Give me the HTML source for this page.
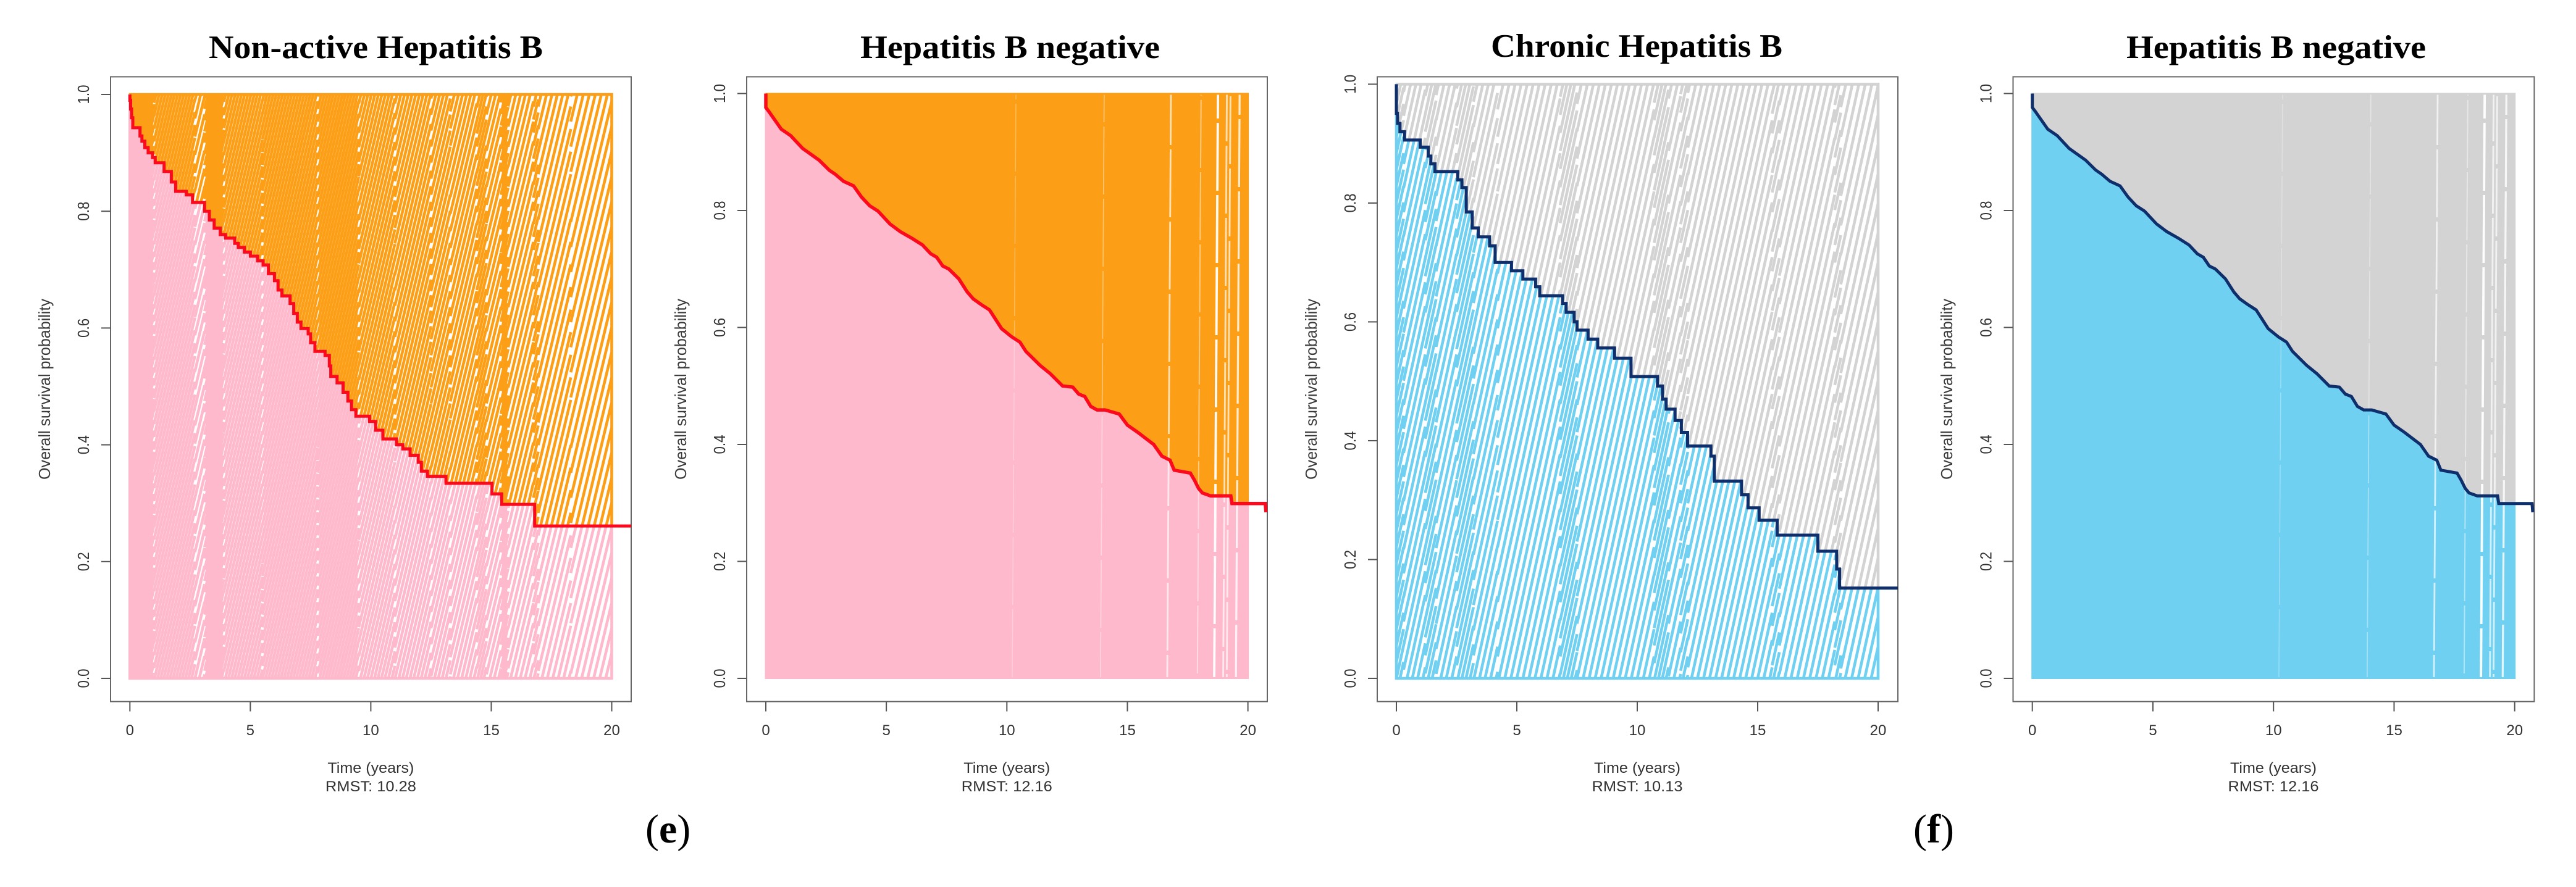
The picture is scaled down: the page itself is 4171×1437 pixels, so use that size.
<!DOCTYPE html>
<html lang="en">
<head>
<meta charset="utf-8">
<title>Overall survival RMST plots</title>
<style>
html,body{margin:0;padding:0;background:#fff;}
svg{display:block;}
text{font-family:"Liberation Sans",Arial,sans-serif;fill:#333;}
.title{font-family:"Liberation Serif",serif;font-weight:bold;font-size:53px;fill:#000;}
.axt{font-size:24px;text-anchor:middle;}
.ylab{font-size:26px;fill:#3a3a3a;}
.cap{font-family:"Liberation Serif",serif;font-size:66px;fill:#000;}
</style>
</head>
<body>
<svg id="fig" xmlns="http://www.w3.org/2000/svg" width="4171" height="1437" viewBox="0 0 4171 1437">
  <rect x="0" y="0" width="4171" height="1437" fill="#fff"/>
  <defs id="clips"></defs>
  <g id="panel1"></g>
  <g id="panel2"></g>
  <g id="panel3"></g>
  <g id="panel4"></g>

  <text class="title" x="338" y="94" textLength="541" lengthAdjust="spacingAndGlyphs">Non-active Hepatitis B</text>
  <text class="title" x="1393" y="94" textLength="485" lengthAdjust="spacingAndGlyphs">Hepatitis B negative</text>
  <text class="title" x="2414" y="92" textLength="472" lengthAdjust="spacingAndGlyphs">Chronic Hepatitis B</text>
  <text class="title" x="3443" y="94" textLength="485" lengthAdjust="spacingAndGlyphs">Hepatitis B negative</text>

  <text class="ylab" transform="translate(81,777) rotate(-90)" textLength="293" lengthAdjust="spacingAndGlyphs">Overall survival probability</text>
  <text class="ylab" transform="translate(1111,777) rotate(-90)" textLength="293" lengthAdjust="spacingAndGlyphs">Overall survival probability</text>
  <text class="ylab" transform="translate(2132,777) rotate(-90)" textLength="293" lengthAdjust="spacingAndGlyphs">Overall survival probability</text>
  <text class="ylab" transform="translate(3161,777) rotate(-90)" textLength="293" lengthAdjust="spacingAndGlyphs">Overall survival probability</text>

  <text class="axt" x="600.4" y="1252" textLength="140" lengthAdjust="spacingAndGlyphs">Time (years)</text>
  <text class="axt" x="600.4" y="1282" textLength="147" lengthAdjust="spacingAndGlyphs">RMST: 10.28</text>
  <text class="axt" x="1630.3" y="1252" textLength="140" lengthAdjust="spacingAndGlyphs">Time (years)</text>
  <text class="axt" x="1630.3" y="1282" textLength="147" lengthAdjust="spacingAndGlyphs">RMST: 12.16</text>
  <text class="axt" x="2651" y="1252" textLength="140" lengthAdjust="spacingAndGlyphs">Time (years)</text>
  <text class="axt" x="2651" y="1282" textLength="147" lengthAdjust="spacingAndGlyphs">RMST: 10.13</text>
  <text class="axt" x="3681" y="1252" textLength="140" lengthAdjust="spacingAndGlyphs">Time (years)</text>
  <text class="axt" x="3681" y="1282" textLength="147" lengthAdjust="spacingAndGlyphs">RMST: 12.16</text>

  <text class="cap" x="1045" y="1365">(<tspan font-weight="bold">e</tspan>)</text>
  <text class="cap" x="3098" y="1365">(<tspan font-weight="bold">f</tspan>)</text>
</svg>
<script>
// Axis ticks
const xTickValues = [0, 5, 10, 15, 20];
const xTickLabels = ["0", "5", "10", "15", "20"];
const yTickValues = [0, 0.2, 0.4, 0.6, 0.8, 1];
const yTickLabels = ["0.0", "0.2", "0.4", "0.6", "0.8", "1.0"];

// Non-active Hepatitis B: drop times (years) and survival after each drop
const nonActiveTimes = [0,0.03,0.07,0.12,0.42,0.50,0.62,0.76,0.94,1.05,1.42,1.72,1.90,2.34,2.60,3.10,3.30,3.50,3.75,3.97,4.35,4.50,4.75,5.00,5.30,5.53,5.75,6.00,6.15,6.31,6.65,6.80,6.95,7.10,7.40,7.50,7.68,8.10,8.28,8.34,8.60,8.85,9.05,9.20,9.38,9.95,10.20,10.50,11.07,11.33,11.63,11.97,12.10,12.35,13.12,15.03,15.43,16.80,20.81];
const nonActiveSurv = [0.99,0.975,0.96,0.943,0.929,0.92,0.909,0.90,0.892,0.883,0.868,0.85,0.834,0.828,0.815,0.80,0.785,0.771,0.76,0.754,0.745,0.738,0.73,0.723,0.715,0.708,0.693,0.681,0.665,0.655,0.642,0.625,0.61,0.599,0.59,0.575,0.56,0.553,0.535,0.517,0.506,0.49,0.475,0.46,0.449,0.44,0.425,0.41,0.40,0.393,0.382,0.37,0.355,0.346,0.334,0.316,0.298,0.261,0.261];

// Hepatitis B negative: curve corners (years, survival)
const negativeTimes = [0,0,0.13,0.35,0.64,1.03,1.53,1.87,2.21,2.63,2.88,3.22,3.64,3.97,4.31,4.65,5.15,5.57,6.08,6.50,6.84,7.09,7.34,7.59,8.01,8.35,8.60,8.94,9.28,9.78,10.20,10.54,10.79,11.38,11.80,12.31,12.73,12.98,13.23,13.48,13.74,14.07,14.66,15.00,15.42,16.09,16.43,16.77,16.94,17.61,17.78,17.95,18.11,18.45,19.29,19.34,20.72,20.75];
const negativeSurv = [1,0.976,0.969,0.956,0.939,0.928,0.906,0.896,0.886,0.869,0.862,0.85,0.842,0.823,0.808,0.799,0.777,0.764,0.752,0.741,0.726,0.72,0.705,0.70,0.683,0.661,0.649,0.639,0.63,0.598,0.584,0.575,0.559,0.535,0.521,0.50,0.498,0.486,0.482,0.465,0.459,0.459,0.452,0.433,0.421,0.40,0.38,0.373,0.356,0.351,0.339,0.325,0.317,0.312,0.312,0.299,0.299,0.284];

// Chronic Hepatitis B: drop times (years) and survival after each drop
const chronicTimes = [0,0.05,0.15,0.34,0.99,1.32,1.43,1.60,2.55,2.72,2.90,3.15,3.40,3.87,4.10,4.78,5.25,5.78,5.95,6.90,7.05,7.38,7.50,7.96,8.36,9.06,9.74,10.84,11.05,11.20,11.57,11.83,12.09,13.06,13.20,14.33,14.60,15.06,15.81,17.50,18.28,18.40,20.82];
const chronicSurv = [0.951,0.934,0.92,0.906,0.894,0.879,0.866,0.853,0.839,0.826,0.785,0.758,0.743,0.728,0.70,0.686,0.672,0.659,0.644,0.631,0.616,0.60,0.586,0.571,0.556,0.539,0.508,0.492,0.47,0.453,0.434,0.414,0.391,0.374,0.332,0.309,0.287,0.266,0.241,0.214,0.184,0.152,0.152];

// Hatch density bands: band edges in years and the gap between hatch lines in years
const nonActiveBandEdges = [0,1,2.7,3.1,3.9,5.5,7.8,9.5,11,12.5,13.3,14.4,14.8,15.4,15.7,16.75,16.95,18.3,20];
const nonActiveBandGaps = [0.105,0.128,0.18,0.112,0.132,0.128,0.125,0.145,0.155,0.16,0.17,0.13,0.18,0.115,0.20,0.13,0.225,0.25];
const chronicBandEdges = [0,0.3,1.2,1.65,2.5,3.2,4.2,6.8,7.5,10.7,11.3,11.8,12.1,15.6,15.9,18.2,18.45,20];
const chronicBandGaps = [0.15,0.22,0.165,0.23,0.17,0.23,0.25,0.165,0.25,0.16,0.24,0.17,0.25,0.18,0.26,0.16,0.27];

// Hepatitis B negative: thin gaps in the nearly solid hatch (years, visibility 0-1)
const negativeGapTimes = [10.3,13.96,16.73,17.98,18.68,19.05,19.2,19.58];
const negativeGapStrength = [0.15,0.25,0.65,0.35,1,0.65,0.65,0.8];

const NS = "http://www.w3.org/2000/svg";
function make(tag, parent, attrs) {
  const el = document.createElementNS(NS, tag);
  for (const k in attrs) el.setAttribute(k, attrs[k]);
  parent.appendChild(el);
  return el;
}

function stepPoints(p, times, surv) {
  const pts = [[p.x(0), p.y(1)]];
  let last = 1;
  for (let i = 0; i < times.length; i++) {
    pts.push([p.x(times[i]), p.y(last)]);
    pts.push([p.x(times[i]), p.y(surv[i])]);
    last = surv[i];
  }
  return pts;
}

function linePoints(p, times, surv) {
  return times.map(function (t, i) { return [p.x(t), p.y(surv[i])]; });
}

function hatchPath(p, edges, gaps, slope) {
  const yb = p.y(0), yt = p.y(1), H = yb - yt, reach = slope * H, x0 = p.x(0);
  let d = "";
  for (let i = 0; i < gaps.length; i++) {
    const A = p.x(edges[i]), B = p.x(edges[i + 1]), g = gaps[i] * p.xs;
    let X = Math.floor((A - reach - x0) / g) * g + x0;
    for (; X < B; X += g) {
      const u1 = Math.max(0, (A - X) / slope), u2 = Math.min(H, (B - X) / slope);
      if (u2 > u1) {
        d += "M" + (X + slope * u1).toFixed(1) + " " + (yb - u1).toFixed(1) +
             "L" + (X + slope * u2).toFixed(1) + " " + (yb - u2).toFixed(1);
      }
    }
  }
  d += "M" + p.x(0) + " " + yt + "H" + p.x(20) + "V" + yb + "H" + p.x(0) + "Z";
  return d;
}

function drawPanel(p) {
  p.x = function (t) { return p.x0 + t * p.xs; };
  p.y = function (v) { return p.y0 - v * p.ys; };
  const root = document.getElementById(p.id);
  const defs = document.getElementById("clips");
  const curve = p.mode === "step" ? stepPoints(p, p.times, p.surv) : linePoints(p, p.times, p.surv);
  const curveStr = curve.map(function (c) { return c[0].toFixed(1) + "," + c[1].toFixed(1); }).join(" ");
  const last = curve[curve.length - 1];
  const right = p.right + 30, top = p.y(1) - 10, bottom = p.y(0) + 10, left = p.x(0) - 10;

  const cpA = make("clipPath", defs, { id: p.id + "-above" });
  make("polygon", cpA, { points: left + "," + top + " " + curveStr + " " + right + "," + last[1] + " " + right + "," + top });
  const cpB = make("clipPath", defs, { id: p.id + "-below" });
  make("polygon", cpB, { points: left + "," + bottom + " " + left + "," + p.y(1) + " " + curveStr + " " + right + "," + last[1] + " " + right + "," + bottom });
  const cpP = make("clipPath", defs, { id: p.id + "-plot" });
  make("rect", cpP, { x: p.left, y: 124, width: p.right - p.left, height: 1013 });

  const gA = make("g", root, { "clip-path": "url(#" + p.id + "-above)" });
  
  
  const gB = make("g", root, { "clip-path": "url(#" + p.id + "-below)" });
  
  

  if (p.gapTimes) {
    const w = p.x(20) - p.x(0) + 3, h = p.y(0) - p.y(1) + 2;
    const ra = make("rect", gA, { x: p.x(0) - 1.5, y: p.y(1) - 1, width: w, height: h, fill: p.upper });
    
    
    const rb = make("rect", gB, { x: p.x(0) - 1.5, y: p.y(1) - 1, width: w, height: h, fill: p.lower });
    
    
    p.gapTimes.forEach(function (t, i) {
      const s = p.gapStrength[i];
      const gl = make("line", root, {
        x1: p.x(t) - 3, y1: p.y(0) - 2, x2: p.x(t) + 3, y2: p.y(1) + 2,
        stroke: "#fff", "stroke-width": 1 + 2.8 * s, "stroke-opacity": 0.2 + 0.75 * s,
        "stroke-dasharray": "110 7", "stroke-dashoffset": 37 * i
      });
      
      
    });
  } else {
    const d = hatchPath(p, p.bandEdges, p.bandGaps, p.slope);
    const ha = make("path", gA, { d: d, fill: "none", stroke: p.upper, "stroke-width": p.hatchWidth });
    
    
    const hb = make("path", gB, { d: d, fill: "none", stroke: p.lower, "stroke-width": p.hatchWidth });
    
    
  }

  const box = make("rect", root, { x: p.left, y: 124.4, width: p.right - p.left, height: 1012.2, fill: "none", stroke: "#666", "stroke-width": 2 });
  
  

  xTickValues.forEach(function (v, i) {
    const tk = make("line", root, { x1: p.x(v), x2: p.x(v), y1: 1136.6, y2: 1152.5, stroke: "#555", "stroke-width": 2 });
    
    
    const lb = make("text", root, { x: p.x(v), y: 1191, "text-anchor": "middle", "font-size": 24 });
    
    
    lb.textContent = xTickLabels[i];
  });
  yTickValues.forEach(function (v, i) {
    const tk = make("line", root, { x1: p.left - 15, x2: p.left, y1: p.y(v), y2: p.y(v), stroke: "#555", "stroke-width": 2 });
    
    
    const lb = make("text", root, {
      transform: "translate(" + (p.left - 35) + "," + (p.y(v) + 15.5) + ") rotate(-90)",
      "font-size": 26, textLength: 31, lengthAdjust: "spacingAndGlyphs", fill: "#3a3a3a"
    });
    
    
    lb.textContent = yTickLabels[i];
  });

  const km = make("polyline", root, {
    points: curveStr, fill: "none", stroke: p.lineColor, "stroke-width": p.lineWidth,
    "stroke-linejoin": "miter", "clip-path": "url(#" + p.id + "-plot)"
  });
  
  
}

drawPanel({ id: "panel1", mode: "step", left: 179, right: 1022, x0: 210.3, xs: 39.01, y0: 1099, ys: 946,
  times: nonActiveTimes, surv: nonActiveSurv, bandEdges: nonActiveBandEdges, bandGaps: nonActiveBandGaps,
  slope: 0.24, hatchWidth: 4.6, upper: "#fd9f16", lower: "#ffb9cc", lineColor: "#fb0a1e", lineWidth: 5 });
drawPanel({ id: "panel2", mode: "line", left: 1209, right: 2052, x0: 1240, xs: 39.03, y0: 1099, ys: 947.5,
  times: negativeTimes, surv: negativeSurv, gapTimes: negativeGapTimes, gapStrength: negativeGapStrength,
  upper: "#fd9f16", lower: "#ffb9cc", lineColor: "#fb0a1e", lineWidth: 5.5 });
drawPanel({ id: "panel3", mode: "step", left: 2230, right: 3073, x0: 2261, xs: 39, y0: 1099, ys: 962.6,
  times: chronicTimes, surv: chronicSurv, bandEdges: chronicBandEdges, bandGaps: chronicBandGaps,
  slope: 0.22, hatchWidth: 4.6, upper: "#d3d3d3", lower: "#6fd0f1", lineColor: "#0e2f6b", lineWidth: 5 });
drawPanel({ id: "panel4", mode: "line", left: 3259.5, right: 4103.4, x0: 3290.7, xs: 39.05, y0: 1099, ys: 947.5,
  times: negativeTimes, surv: negativeSurv, gapTimes: negativeGapTimes, gapStrength: negativeGapStrength,
  upper: "#d3d3d3", lower: "#6fd0f1", lineColor: "#0e2f6b", lineWidth: 5 });
</script>
</body>
</html>
